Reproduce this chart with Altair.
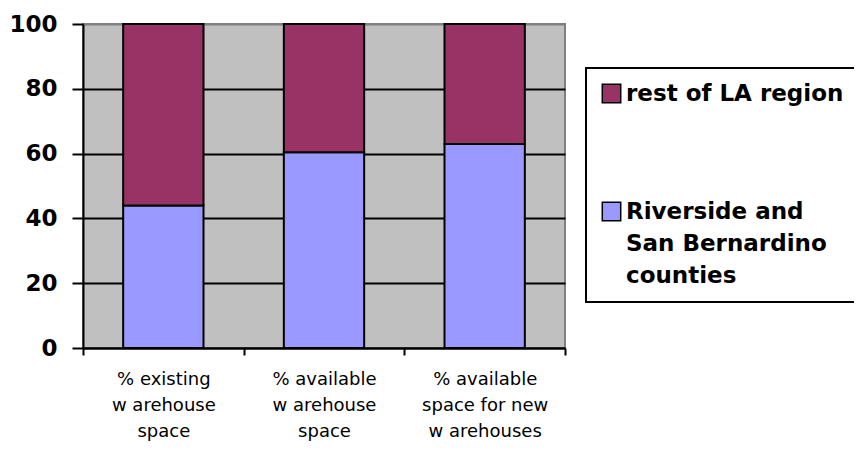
import json
import altair as alt
import pandas as pd

categories = ["% existing\nw arehouse\nspace",
              "% available\nw arehouse\nspace",
              "% available\nspace for new\nw arehouses"]
series = ["rest of LA region", "Riverside and San Bernardino counties"]
riverside_sb = [44, 60.4, 63]
rest_of_la = [56, 39.6, 37]
legend_lines = {
    "rest of LA region": ["rest of LA region"],
    "Riverside and San Bernardino counties": ["Riverside and", "San Bernardino", "counties"],
}
y_ticks = [0, 20, 40, 60, 80, 100]
colors = ["#993366", "#9999FF"]

rows = []
for c, v in zip(categories, riverside_sb):
    rows.append({"cat": c, "series": series[1], "value": v, "ord": 0})
for c, v in zip(categories, rest_of_la):
    rows.append({"cat": c, "series": series[0], "value": v, "ord": 1})
df = pd.DataFrame(rows)

label_expr = " : ".join(
    [f"datum.label == {json.dumps(k)} ? {json.dumps(v)}" for k, v in list(legend_lines.items())[:-1]]
    + [json.dumps(list(legend_lines.values())[-1])]
)

chart = alt.Chart(df).mark_bar(stroke="black", strokeWidth=2,
                               width=alt.RelativeBandSize(0.5)).encode(
    x=alt.X("cat:N", sort=categories, title=None,
            scale=alt.Scale(paddingInner=0, paddingOuter=0),
            axis=alt.Axis(labelAngle=0, labelExpr="split(datum.label, '\\n')",
                          labelFont="DejaVu Sans", labelFontSize=18, labelColor="black",
                          labelLineHeight=26, labelBaseline="top", labelPadding=15,
                          tickBand="extent", tickSize=7, tickWidth=2, tickColor="black",
                          domainColor="black", domainWidth=2, grid=False)),
    y=alt.Y("value:Q", stack="zero", title=None,
            scale=alt.Scale(domain=[0, 100]),
            axis=alt.Axis(values=y_ticks, labelFont="DejaVu Sans", labelFontSize=23,
                          labelFontWeight="bold", labelColor="black", labelPadding=15,
                          tickSize=11, tickWidth=2, tickColor="black",
                          domainColor="black", domainWidth=2,
                          grid=True, gridWidth=2,
                          gridColor=alt.condition("datum.value == 100", alt.value("#808080"), alt.value("black")))),
    color=alt.Color("series:N", scale=alt.Scale(domain=series, range=colors),
                    legend=alt.Legend(title=None, orient="none", legendX=503, legendY=44,
                                      strokeColor="black", padding=14,
                                      symbolType="square", symbolSize=340,
                                      symbolStrokeColor="black", symbolStrokeWidth=1.5,
                                      symbolOpacity=1,
                                      labelFont="DejaVu Sans", labelFontSize=23,
                                      labelFontWeight="bold", labelColor="black",
                                      labelLimit=400, labelOffset=3,
                                      labelExpr=label_expr, rowPadding=93)),
    order=alt.Order("ord:Q"),
).properties(
    width=482, height=324,
    autosize=alt.AutoSizeParams(type="none"),
    padding={"left": 75, "top": 16, "right": 289, "bottom": 96},
).configure(
    background="white",
    style={"guide-label": {"lineHeight": 32}},
).configure_view(
    fill="#C0C0C0", stroke="#808080", strokeWidth=2
).configure_legend(
    strokeWidth=2
)

chart.save("out.html", embed_options={"renderer": "svg", "actions": False})
